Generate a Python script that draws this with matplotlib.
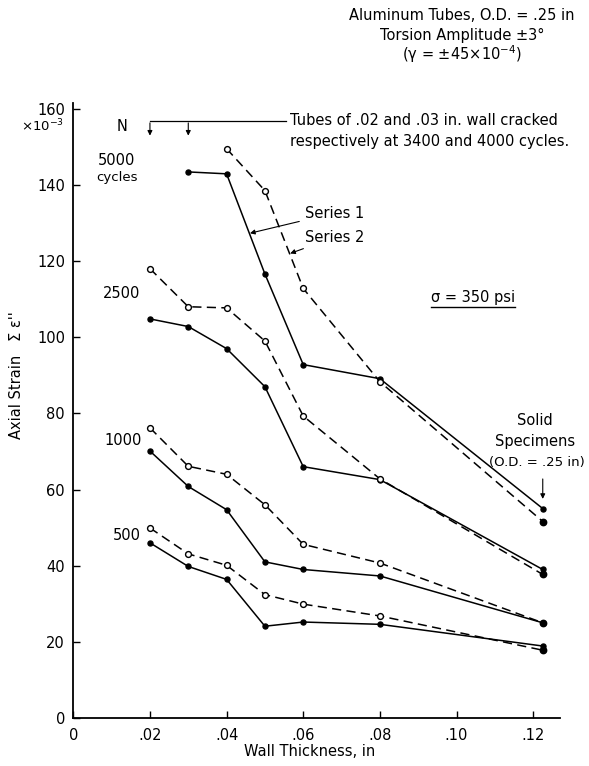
import matplotlib

matplotlib.use("Agg")
import matplotlib.pyplot as plt
from matplotlib.lines import Line2D

# wall thickness (in); the last point is the solid specimen (O.D. = .25 in)
wall = [0.02, 0.03, 0.04, 0.05, 0.06, 0.08, 0.1225]

# axial strain (x10^-3) at N cycles, series 1 (solid) and series 2 (dashed)
s1_500 = [46.0, 39.8, 36.4, 24.1, 25.2, 24.6, 18.9]
s2_500 = [49.9, 43.1, 40.1, 32.4, 29.9, 26.8, 17.8]
s1_1000 = [70.1, 60.8, 54.7, 41.0, 39.0, 37.3, 25.0]
s2_1000 = [76.2, 66.1, 64.0, 56.0, 45.6, 40.7, 25.0]
s1_2500 = [104.8, 102.8, 97.0, 87.0, 66.0, 62.6, 39.0]
s2_2500 = [118.0, 108.0, 107.7, 99.0, 79.3, 62.8, 37.7]
# .02 and .03 in tubes cracked before 5000 cycles
wall_s1_5000 = [0.03, 0.04, 0.05, 0.06, 0.08, 0.1225]
s1_5000 = [143.4, 142.9, 116.6, 92.8, 89.1, 55.0]
wall_s2_5000 = [0.04, 0.05, 0.06, 0.08, 0.1225]
s2_5000 = [149.5, 138.5, 112.8, 88.3, 51.6]

x_ticks = [0, 0.02, 0.04, 0.06, 0.08, 0.10, 0.12]
x_ticklabels = ["0", ".02", ".04", ".06", ".08", ".10", ".12"]
y_ticks = [0, 20, 40, 60, 80, 100, 120, 140, 160]

W, H = 589, 766
plt.rcParams["font.family"] = ["DejaVu Sans"]
fig = plt.figure(figsize=(W / 100, H / 100), dpi=100)
ax = fig.add_axes([73.3 / W, 1 - 718 / H, (560 - 73.3) / W, (718 - 103) / H])

dash = (6, 3.5)


def series1(x, y):
    ax.plot(x, y, "-", color="black", lw=1.1, marker="o", ms=3.6, mfc="black", mec="black")


def series2(x, y):
    ax.plot(x, y, "--", dashes=dash, color="black", lw=1.1)
    ax.plot(x[:-1], y[:-1], "o", ms=4.2, mfc="white", mec="black", mew=1.0)
    ax.plot(x[-1:], y[-1:], "o", ms=4.6, mfc="black", mec="black")


series1(wall, s1_500)
series2(wall, s2_500)
series1(wall, s1_1000)
series2(wall, s2_1000)
series1(wall, s1_2500)
series2(wall, s2_2500)
series1(wall_s1_5000, s1_5000)
series2(wall_s2_5000, s2_5000)

ax.set_xlim(0, 0.127)
ax.set_ylim(0, 161.5)
ax.set_xticks(x_ticks)
ax.set_xticklabels(x_ticklabels)
ax.set_yticks(y_ticks)
ax.spines["top"].set_visible(False)
ax.spines["right"].set_visible(False)
for s in ("left", "bottom"):
    ax.spines[s].set_linewidth(1.3)
ax.tick_params(direction="in", length=5, width=1.0, labelsize=10.5)
ax.tick_params(axis="x", pad=7)
ax.tick_params(axis="y", pad=6)

fs = 10.5
# cycle labels
ax.text(0.0127, 155.2, "N", ha="center", va="center", fontsize=fs)
ax.text(0.0114, 146.5, "5000", ha="center", va="center", fontsize=fs)
ax.text(0.0114, 142.0, "cycles", ha="center", va="center", fontsize=9.5)
ax.text(0.0126, 111.5, "2500", ha="center", va="center", fontsize=fs)
ax.text(0.0130, 72.9, "1000", ha="center", va="center", fontsize=fs)
ax.text(0.0139, 47.8, "500", ha="center", va="center", fontsize=fs)

# cracked tubes bracket
ax.plot([0.02, 0.0555], [156.8, 156.8], color="black", lw=0.9)
for xa in (0.02, 0.03):
    ax.annotate("", xy=(xa, 152.2), xytext=(xa, 157.0),
                arrowprops=dict(arrowstyle="-|>", color="black", lw=0.8, mutation_scale=7))
ax.text(0.0565, 157.0, "Tubes of .02 and .03 in. wall cracked", ha="left", va="center", fontsize=fs)
ax.text(0.0565, 151.5, "respectively at 3400 and 4000 cycles.", ha="left", va="center", fontsize=fs)

# series labels
ax.annotate("Series 1", xy=(0.0461, 127.3), xytext=(0.0604, 132.6), ha="left", va="center",
            fontsize=fs, arrowprops=dict(arrowstyle="-|>", color="black", lw=0.8,
                                         mutation_scale=7, shrinkA=2, shrinkB=0))
ax.annotate("Series 2", xy=(0.0566, 122.0), xytext=(0.0604, 126.2), ha="left", va="center",
            fontsize=fs, arrowprops=dict(arrowstyle="-|>", color="black", lw=0.8,
                                         mutation_scale=7, shrinkA=2, shrinkB=0))

sigma = ax.text(0.1043, 110.3, "σ = 350 psi", ha="center", va="center", fontsize=fs)

ax.text(0.1205, 78.0, "Solid", ha="center", va="center", fontsize=fs)
ax.text(0.1205, 72.6, "Specimens", ha="center", va="center", fontsize=fs)
ax.text(0.1210, 67.0, "(O.D. = .25 in)", ha="center", va="center", fontsize=9.5)
ax.annotate("", xy=(0.1225, 56.8), xytext=(0.1225, 63.5),
            arrowprops=dict(arrowstyle="-|>", color="black", lw=0.8, mutation_scale=7))

# header and axis titles
fig.text(462 / W, 1 - 16 / H, "Aluminum Tubes, O.D. = .25 in", ha="center", va="center", fontsize=fs)
fig.text(462 / W, 1 - 35 / H, "Torsion Amplitude ±3°", ha="center", va="center", fontsize=fs)
fig.text(462 / W, 1 - 54 / H, "(γ = ±45×10$^{-4}$)", ha="center", va="center", fontsize=fs)
fig.text(64 / W, 1 - 126 / H, "×10$^{-3}$", ha="right", va="center", fontsize=9.5)
fig.text(17 / W, 1 - 375 / H, "Axial Strain   Σ ε''", rotation=90, ha="center", va="center", fontsize=fs)
fig.text(310 / W, 1 - 752 / H, "Wall Thickness, in", ha="center", va="center", fontsize=fs)

# underline under the stress label
fig.canvas.draw()
bb = sigma.get_window_extent()
fig.add_artist(Line2D([bb.x0 / W, bb.x1 / W], [(bb.y0 - 2) / H, (bb.y0 - 2) / H],
                      color="black", lw=1.0))

fig.savefig("out.png", dpi=100)
